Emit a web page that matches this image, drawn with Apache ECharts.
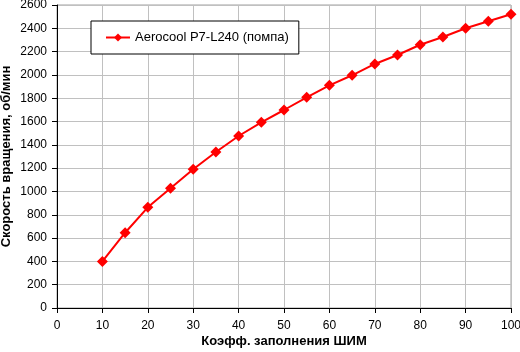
<!DOCTYPE html>
<html>
<head>
    <meta charset="utf-8">
    <title>Aerocool P7-L240</title>
    <script src="https://cdn.jsdelivr.net/npm/echarts@6/dist/echarts.min.js"></script>
    <style>
        html, body { margin: 0; padding: 0; background: #fff; }
        #chart { width: 520px; height: 352px; }
    </style>
</head>
<body>
<div id="chart"></div>
<script>
// коэфф. заполнения ШИМ, %
var pwm = [10, 15, 20, 25, 30, 35, 40, 45, 50, 55, 60, 65, 70, 75, 80, 85, 90, 95, 100];
// скорость вращения помпы, об/мин
var rpm = [400, 646, 864, 1027, 1190, 1339, 1476, 1593, 1699, 1808, 1911, 1997, 2094, 2171, 2259, 2325, 2400, 2460, 2520];
var seriesName = 'Aerocool P7-L240 (помпа)';

var points = [];
for (var i = 0; i < pwm.length; i++) {
    points.push([pwm[i], rpm[i]]);
}

var font = 'Liberation Sans, Arial, sans-serif';
var chart = echarts.init(document.getElementById('chart'));
chart.setOption({
    animation: false,
    grid: {
        left: 57, right: 9, top: 5, bottom: 44,
        containLabel: false, outerBoundsMode: 'none',
        show: true, borderColor: '#a0a0a0', borderWidth: 1
    },
    legend: {
        data: [seriesName],
        left: 91, top: 21,
        padding: [10, 10, 10, 14],
        itemWidth: 24, itemHeight: 10, itemGap: 4,
        borderColor: '#000', borderWidth: 1,
        backgroundColor: '#fff',
        textStyle: { fontFamily: font, fontSize: 13, color: '#000' }
    },
    xAxis: {
        type: 'value', min: 0, max: 100, interval: 10,
        name: 'Коэфф. заполнения ШИМ',
        nameLocation: 'middle', nameGap: 27, nameMoveOverlap: false,
        nameTextStyle: { fontFamily: font, fontSize: 13, fontWeight: 'bold', color: '#000' },
        axisLine: { lineStyle: { color: '#000', width: 1 } },
        axisTick: { show: true, length: 5, lineStyle: { color: '#000' } },
        axisLabel: { fontFamily: font, fontSize: 12, color: '#000', margin: 12 },
        splitLine: { lineStyle: { color: '#c0c0c0', width: 1 } }
    },
    yAxis: {
        type: 'value', min: 0, max: 2600, interval: 200,
        name: 'Скорость вращения, об/мин',
        nameLocation: 'middle', nameGap: 44, nameMoveOverlap: false,
        nameTextStyle: { fontFamily: font, fontSize: 13, fontWeight: 'bold', color: '#000' },
        axisLine: { show: true, lineStyle: { color: '#000', width: 1 } },
        axisTick: { show: true, length: 5, lineStyle: { color: '#000' } },
        axisLabel: {
            fontFamily: font, fontSize: 12, color: '#000', margin: 10,
            formatter: function (v) { return String(v); }
        },
        splitLine: { lineStyle: { color: '#c0c0c0', width: 1 } }
    },
    series: [{
        name: seriesName,
        type: 'line',
        data: points,
        symbol: 'diamond',
        symbolSize: 11,
        showAllSymbol: true,
        lineStyle: { color: '#ff0000', width: 2 },
        itemStyle: { color: '#ff0000' }
    }]
});
</script>
</body>
</html>
